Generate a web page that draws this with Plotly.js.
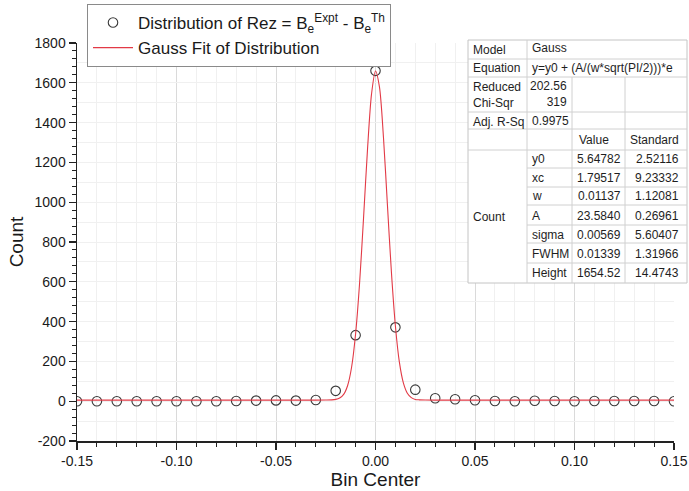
<!DOCTYPE html>
<html>
<head>
<meta charset="utf-8">
<script src="https://cdn.plot.ly/plotly-3.0.1.min.js"></script>
<style>
  html, body { margin: 0; padding: 0; background: #fff; }
  #chart { width: 689px; height: 491px; }
</style>
</head>
<body>
<div id="chart"></div>
<script>
// ---------------- data ----------------
const binCenter = [-0.15, -0.14, -0.13, -0.12, -0.11, -0.10, -0.09, -0.08, -0.07, -0.06,
                   -0.05, -0.04, -0.03, -0.02, -0.01, 0.00, 0.01, 0.02, 0.03, 0.04,
                   0.05, 0.06, 0.07, 0.08, 0.09, 0.10, 0.11, 0.12, 0.13, 0.14, 0.15];
const count = [0, 0, 0, 0, 0, 0, 0, 0, 1, 3,
               4, 3, 6, 52, 332, 1660, 371, 58, 15, 10,
               5, 1, 0, 2, 1, 0, 1, 1, 1, 1, 0];

// Gauss fit curve
const fitX = [-0.15, -0.03, -0.025, -0.022, -0.020, -0.018, -0.016, -0.014, -0.012, -0.010,
              -0.008, -0.006, -0.004, -0.002, 0.000, 0.002, 0.004, 0.006, 0.008, 0.010,
              0.012, 0.014, 0.016, 0.018, 0.020, 0.022, 0.025, 0.03, 0.15];
const fitY = [5.6, 5.6, 5.7, 6.5, 9, 16, 34, 79, 172, 339,
              593, 922, 1268, 1543, 1659, 1578, 1326, 985, 648, 378,
              196, 92, 40, 18, 9, 6.7, 5.8, 5.6, 5.6];

const xTickVals = [-0.15, -0.10, -0.05, 0.00, 0.05, 0.10, 0.15];
const xTickText = ['-0.15', '-0.10', '-0.05', '0.00', '0.05', '0.10', '0.15'];
const yTickVals = [-200, 0, 200, 400, 600, 800, 1000, 1200, 1400, 1600, 1800];
const yTickText = ['-200', '0', '200', '400', '600', '800', '1000', '1200', '1400', '1600', '1800'];

const seriesNames = ['Distribution of Rez = B<sub>e</sub><sup>Expt</sup> - B<sub>e</sub><sup>Th</sup>',
                     'Gauss Fit of Distribution'];

// fit report table
const tblModel = ['Model', 'Gauss'];
const tblEquation = ['Equation', 'y=y0 + (A/(w*sqrt(PI/2)))*e'];
const tblChi = ['Reduced<br>Chi-Sqr', '202.56<br>319'];
const tblAdjR = ['Adj. R-Sq', '0.9975'];
const tblHeader = ['Value', 'Standard'];
const tblGroup = 'Count';
const paramNames = ['y0', 'xc', 'w', 'A', 'sigma', 'FWHM', 'Height'];
const paramValues = ['5.64782', '1.79517', '0.01137', '23.5840', '0.00569', '0.01339', '1654.52'];
const paramErrors = ['2.52116', '9.23332', '1.12081', '0.26961', '5.60407', '1.31966', '14.4743'];

// ---------------- layout helpers (pixels -> paper) ----------------
const W = 689, H = 491;
const L = 77, R = 674, T = 43, B = 441;
const px = x => (x - L) / (R - L);
const py = y => (B - y) / (B - T);
const FONT = 'Liberation Sans, Arial, sans-serif';

const shapes = [];
const annotations = [];
function hline(y, x0, x1, color) {
  shapes.push({type: 'line', xref: 'paper', yref: 'paper', x0: px(x0), x1: px(x1), y0: py(y), y1: py(y),
               line: {color: color || '#d0d0d0', width: 1}, layer: 'above'});
}
function vline(x, y0, y1, color) {
  shapes.push({type: 'line', xref: 'paper', yref: 'paper', x0: px(x), x1: px(x), y0: py(y0), y1: py(y1),
               line: {color: color || '#d0d0d0', width: 1}, layer: 'above'});
}
function txt(text, x, y, anchor) {
  annotations.push({text: text, xref: 'paper', yref: 'paper', x: px(x), y: py(y),
                    xanchor: anchor || 'left', yanchor: 'middle', showarrow: false,
                    font: {family: FONT, size: 12, color: '#1e1e1e'}, align: anchor === 'right' ? 'right' : 'left'});
}

// table geometry
const tx0 = 468, tx1 = 687, c1 = 527, c2 = 572, c3 = 625;
const rowLines = [40, 59, 77, 112, 129, 150, 168, 187, 205, 225, 243, 263, 283];
// background
shapes.push({type: 'rect', xref: 'paper', yref: 'paper', x0: px(tx0), x1: px(tx1), y0: py(40), y1: py(283),
             fillcolor: '#ffffff', line: {color: '#c4c4c4', width: 1}, layer: 'above'});
// horizontal
hline(59, tx0, tx1); hline(77, tx0, tx1); hline(112, tx0, tx1); hline(129, tx0, tx1); hline(150, tx0, tx1);
for (let i = 6; i < rowLines.length - 1; i++) hline(rowLines[i], c1, tx1);
// vertical
vline(c1, 40, 283); vline(c2, 77, 283); vline(c3, 77, 283);

txt(tblModel[0], 471, 49.5); txt(tblModel[1], 530, 48.5);
txt(tblEquation[0], 471, 68); txt(tblEquation[1], 530, 68);
txt(tblChi[0], 471, 94.5); txt(tblChi[1], 569, 94, 'right');
txt(tblAdjR[0], 471, 121.5); txt(tblAdjR[1], 530, 121);
txt(tblHeader[0], 577, 140); txt(tblHeader[1], 628, 140);
const rowCenters = [159, 177.5, 196, 216, 235, 254, 272.5];
for (let i = 0; i < paramNames.length; i++) {
  txt(paramNames[i], 530, rowCenters[i]);
  txt(paramValues[i], 623, rowCenters[i], 'right');
  txt(paramErrors[i], 681, rowCenters[i], 'right');
}
txt(tblGroup, 471, 217);

// ---------------- traces ----------------
const traces = [
  {
    x: binCenter, y: count, name: seriesNames[0], type: 'scatter', mode: 'markers',
    marker: {symbol: 'circle-open', size: 9.5, color: '#3a3a3a', line: {width: 1.1}},
    cliponaxis: true
  },
  {
    x: fitX, y: fitY, name: seriesNames[1], type: 'scatter', mode: 'lines',
    line: {color: '#e23a46', width: 1.1, shape: 'spline', smoothing: 0.8}
  },
  // invisible trace to carry the minor (100-step) horizontal grid
  {x: [0], y: [0], yaxis: 'y2', mode: 'markers', marker: {opacity: 0}, showlegend: false, hoverinfo: 'skip'}
];

const layout = {
  width: W, height: H,
  margin: {l: L, r: W - R, t: T, b: H - B, pad: 0, autoexpand: false},
  paper_bgcolor: '#ffffff', plot_bgcolor: '#ffffff',
  font: {family: FONT, color: '#1a1a1a', size: 14},
  showlegend: true,
  legend: {
    x: px(87), y: py(4), xanchor: 'left', yanchor: 'top',
    bgcolor: '#ffffff', bordercolor: '#8a8a8a', borderwidth: 1,
    font: {family: FONT, size: 17, color: '#1a1a1a'},
    itemwidth: 40, tracegroupgap: 0
  },
  xaxis: {
    range: [-0.15, 0.15], tickvals: xTickVals, ticktext: xTickText,
    ticks: 'outside', ticklen: 7, tickwidth: 1.2, tickcolor: '#222',
    showline: true, linecolor: '#222', linewidth: 1.5,
    showgrid: true, gridcolor: '#dadada', gridwidth: 1, zeroline: false,
    tickfont: {family: FONT, size: 14, color: '#1a1a1a'},
    minor: {dtick: 0.01, tick0: 0, ticks: 'outside', ticklen: 4, tickcolor: '#222', tickwidth: 1,
            showgrid: true, gridcolor: '#f0f0f0', gridwidth: 1},
    title: {text: 'Bin Center', font: {family: FONT, size: 19, color: '#1a1a1a'}, standoff: 4},
    automargin: false, fixedrange: true
  },
  yaxis: {
    range: [-200, 1800], tickvals: yTickVals, ticktext: yTickText,
    ticks: 'outside', ticklen: 7, tickwidth: 1.2, tickcolor: '#222',
    showline: true, linecolor: '#222', linewidth: 1.5,
    showgrid: true, gridcolor: '#dadada', gridwidth: 1, zeroline: false,
    tickfont: {family: FONT, size: 14, color: '#1a1a1a'},
    minor: {dtick: 40, tick0: 0, ticks: 'outside', ticklen: 4, tickcolor: '#222', tickwidth: 1, showgrid: false},
    title: {text: 'Count', font: {family: FONT, size: 19, color: '#1a1a1a'}, standoff: 6},
    automargin: false, fixedrange: true
  },
  yaxis2: {
    overlaying: 'y', range: [-200, 1800], dtick: 100, tick0: 0,
    showgrid: true, gridcolor: '#f0f0f0', gridwidth: 1, zeroline: false,
    showticklabels: false, ticks: '', showline: false, automargin: false, fixedrange: true
  },
  shapes: shapes,
  annotations: annotations
};

Plotly.newPlot('chart', traces, layout, {displayModeBar: false, staticPlot: true});
</script>
</body>
</html>
